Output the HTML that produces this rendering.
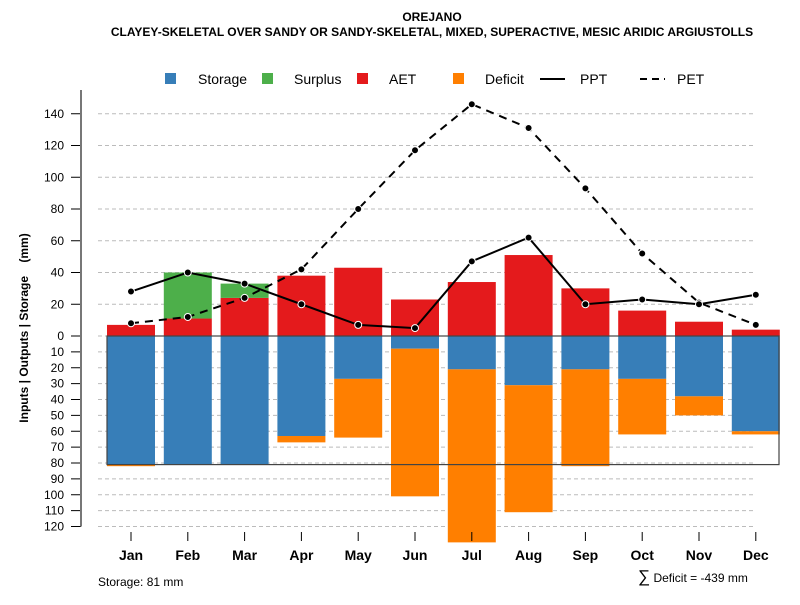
<!DOCTYPE html>
<html><head><meta charset="utf-8"><style>
body{margin:0;background:#fff;font-family:"Liberation Sans",sans-serif}
</style></head><body>
<svg id="chart" width="800" height="600" xmlns="http://www.w3.org/2000/svg" font-family="Liberation Sans, sans-serif">
<text x="432" y="21" text-anchor="middle" font-size="12" font-weight="bold">OREJANO</text>
<text x="432" y="36" text-anchor="middle" font-size="12" font-weight="bold">CLAYEY-SKELETAL OVER SANDY OR SANDY-SKELETAL, MIXED, SUPERACTIVE, MESIC ARIDIC ARGIUSTOLLS</text>
<g id="legend" font-size="14">
<rect x="165" y="73" width="11" height="11" fill="#377EB8"/><text x="198" y="84">Storage</text>
<rect x="262" y="73" width="11" height="11" fill="#4DAF4A"/><text x="294" y="84">Surplus</text>
<rect x="357" y="73" width="11" height="11" fill="#E41A1C"/><text x="389" y="84">AET</text>
<rect x="453" y="73" width="11" height="11" fill="#FF7F00"/><text x="485" y="84">Deficit</text>
<line x1="540" y1="79" x2="565" y2="79" stroke="#000" stroke-width="2"/><text x="580" y="84">PPT</text>
<line x1="640" y1="79" x2="665" y2="79" stroke="#000" stroke-width="2" stroke-dasharray="7,5"/><text x="677" y="84">PET</text>
</g>
<g id="grid"></g><g id="bars"></g><g id="lines"></g><g id="axes"></g>
<text xml:space="preserve" transform="translate(28,328) rotate(-90)" text-anchor="middle" font-size="12" font-weight="bold">Inputs | Outputs | Storage    (mm)</text>
<text x="98" y="586" font-size="12">Storage: 81 mm</text>
<text x="638" y="582" font-size="12"><tspan font-size="17">∑</tspan> Deficit = -439 mm</text>
</svg>
<script>
const months=["Jan","Feb","Mar","Apr","May","Jun","Jul","Aug","Sep","Oct","Nov","Dec"];
const aet=[7,11,24,38,43,23,34,51,30,16,9,4];
const surplus=[0,29,9,0,0,0,0,0,0,0,0,0];
const storage=[81,81,81,63,27,8,21,31,21,27,38,60];
const deficit=[1,0,0,4,37,93,109,80,61,35,12,2];
const ppt=[28,40,33,20,7,5,47,62,20,23,20,26];
const pet=[8,12,24,42,80,117,146,131,93,52,21,7];
const upTicks=[0,20,40,60,80,100,120,140];
const downTicks=[10,20,30,40,50,60,70,80,90,100,110,120];
const NS="http://www.w3.org/2000/svg";
const x=i=>131+56.8*i;
const y=v=>336-v*1.5875;
function mk(p,t,a){const e=document.createElementNS(NS,t);for(const k in a)e.setAttribute(k,a[k]);document.getElementById(p).appendChild(e);return e;}
[...upTicks.map(v=>v),...downTicks.map(v=>-v)].forEach(v=>{
 const g=mk("grid","line",{x1:98,x2:755,y1:y(v),y2:y(v),stroke:"#bbb","stroke-dasharray":"4,3"});
 
 
 const t=mk("axes","line",{x1:71,x2:81,y1:y(v),y2:y(v),stroke:"#000"});
 const l=mk("axes","text",{x:64,y:y(v)+4,"text-anchor":"end","font-size":12});
 l.textContent=Math.abs(v);
 
 
});
mk("axes","line",{x1:81,x2:81,y1:90,y2:y(-120),stroke:"#777","stroke-width":2});
months.forEach((m,i)=>{
 const bx=x(i)-24,w=48;
 const r1=mk("bars","rect",{x:bx,y:y(aet[i]),width:w,height:aet[i]*1.5875,fill:"#E41A1C"});
 
 
 if(surplus[i]>0){const r=mk("bars","rect",{x:bx,y:y(aet[i]+surplus[i]),width:w,height:surplus[i]*1.5875,fill:"#4DAF4A"});
 
 }
 const r2=mk("bars","rect",{x:bx,y:336,width:w,height:storage[i]*1.5875,fill:"#377EB8"});
 
 
 if(deficit[i]>0){const r=mk("bars","rect",{x:bx,y:y(-storage[i]),width:w,height:deficit[i]*1.5875,fill:"#FF7F00"});
 
 }
 mk("axes","line",{x1:x(i),x2:x(i),y1:532,y2:541,stroke:"#000"});
 const t=mk("axes","text",{x:x(i),y:560,"text-anchor":"middle","font-size":14,"font-weight":"bold"});
 t.textContent=m;
 
 
});
mk("bars","rect",{x:107,y:336,width:672,height:81*1.5875,fill:"none",stroke:"#444","stroke-width":1.2});
function series(arr,dash,name){
 const pl=mk("lines","polyline",{points:arr.map((v,i)=>x(i)+","+y(v)).join(" "),fill:"none",stroke:"#000","stroke-width":2,"stroke-dasharray":dash});
 
 
 arr.forEach((v,i)=>{const c=mk("lines","circle",{cx:x(i),cy:y(v),r:3.5,fill:"#000",stroke:"#fff","stroke-width":1});
 
 });
}
series(pet,"8,6","pet");
series(ppt,"none","ppt");
</script>
</body></html>
